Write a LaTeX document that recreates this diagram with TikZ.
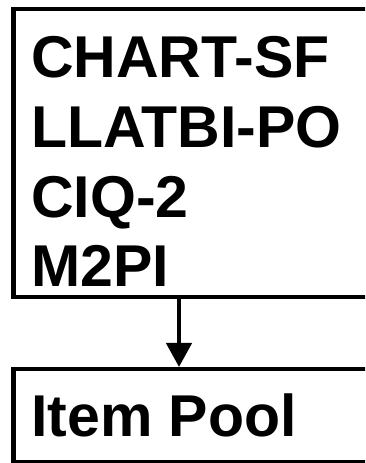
\documentclass[tikz,border=0pt]{standalone}
\usepackage{fontspec}
\setmainfont{Liberation Sans}
\usetikzlibrary{arrows.meta}
\begin{document}
\begin{tikzpicture}[x=1pt,y=1pt,
      frame/.style={draw=black, line width=4.5pt, anchor=north west,
        minimum width=420pt, inner sep=0pt},
      entry/.style={anchor=base west, inner sep=0pt,
        font=\fontsize{59}{70}\selectfont\bfseries},
      flow/.style={-{Triangle[length=24pt,width=25pt]}, line width=4.5pt},
    ]
    \useasboundingbox (0,0) rectangle (365,463);
    \clip (0,0) rectangle (365,463);
    % Instruments
    \node[frame, minimum height=288pt] (instr) at (11,456) {};
    \node[entry] (chart) at (31,385) {CHART-SF};
    \node[entry] (llatbi) at (31,315) {LLATBI-PO};
    \node[entry] (ciq) at (31,245) {CIQ-2};
    \node[entry] (mtwopi) at (31,176) {M2PI};
    % Item pool
    \node[frame, minimum height=93pt] (pool) at (11,96) {};
    \node[entry] (pooltext) at (31,26) {Item Pool};

    % Flow arrow
    \coordinate (axis) at (179,0);
    \draw[flow] (instr.south -| axis) -- (pool.north -| axis);
  \end{tikzpicture}
\end{document}
